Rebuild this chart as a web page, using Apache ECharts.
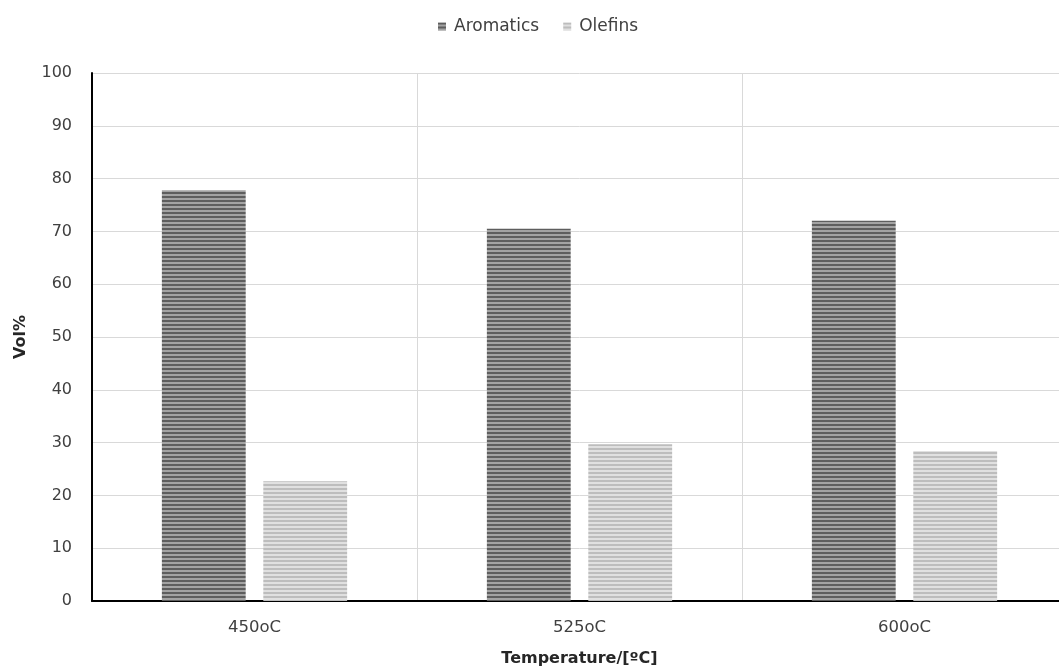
<!DOCTYPE html>
<html>
<head>
<meta charset="utf-8">
<script src="https://cdn.jsdelivr.net/npm/echarts@6/dist/echarts.min.js"></script>
<style>
html, body { margin: 0; padding: 0; background: #fff; overflow: hidden; }
#wrap { width: 1059px; height: 672px; overflow: hidden; }
/* plot area runs a little past the right edge of the page */
#chart { width: 1067px; height: 672px; }
</style>
</head>
<body>
<div id="wrap"><div id="chart"></div></div>
<script>
// Temperatures and composition (vol%)
const categories = ['450oC', '525oC', '600oC'];
const aromatics = [77.8, 70.5, 72.0];
const olefins = [22.7, 29.7, 28.4];
const yTicks = [0, 10, 20, 30, 40, 50, 60, 70, 80, 90, 100];

// Horizontal stripe fill used for the bars
function stripes(dark, light) {
  const c = document.createElement('canvas');
  c.width = 4; c.height = 4;
  const ctx = c.getContext('2d');
  ctx.fillStyle = light; ctx.fillRect(0, 0, 4, 4);
  ctx.fillStyle = dark; ctx.fillRect(0, 0, 4, 2);
  return { image: c, repeat: 'repeat' };
}

const font = '"DejaVu Sans", "Open Sans", sans-serif';
const chart = echarts.init(document.getElementById('chart'), null, { renderer: 'canvas' });

chart.setOption({
  animation: false,
  backgroundColor: '#fff',
  textStyle: { fontFamily: font },
  legend: {
    top: 13, left: 433,
    icon: 'rect',
    itemWidth: 8, itemHeight: 8, itemGap: 24,
    textStyle: { fontSize: 17, color: '#404040', fontFamily: font, padding: [0, 0, 0, 3] },
    data: ['Aromatics', 'Olefins']
  },
  grid: { left: 92, right: 0, top: 73, bottom: 71, containLabel: false },
  xAxis: {
    type: 'category',
    data: categories,
    name: 'Temperature/[ºC]',
    nameLocation: 'middle',
    nameGap: 50,
    nameTextStyle: { fontSize: 16, fontWeight: 'bold', color: '#262626', fontFamily: font },
    axisLine: { lineStyle: { color: '#000', width: 2 } },
    axisTick: { show: false },
    axisLabel: { fontSize: 16.5, color: '#404040', margin: 18, fontFamily: font },
    splitLine: { show: true, lineStyle: { color: '#d9d9d9', width: 1 } }
  },
  yAxis: {
    type: 'value',
    min: 0, max: 100, interval: 10,
    name: 'Vol%',
    nameLocation: 'middle',
    nameGap: 63,
    nameTextStyle: { fontSize: 16, fontWeight: 'bold', color: '#262626', fontFamily: font },
    axisLine: { show: true, lineStyle: { color: '#000', width: 2 } },
    axisTick: { show: false },
    axisLabel: {
      fontSize: 16, color: '#404040', margin: 20, fontFamily: font,
      formatter: v => yTicks.includes(v) ? String(v) : ''
    },
    splitLine: { lineStyle: { color: '#d9d9d9', width: 1 } }
  },
  series: [
    {
      name: 'Aromatics', type: 'bar', data: aromatics,
      barGap: '21%', barCategoryGap: '43%',
      itemStyle: { color: stripes('#5e5e5e', '#a3a3a3') }
    },
    {
      name: 'Olefins', type: 'bar', data: olefins,
      itemStyle: { color: stripes('#bdbdbd', '#e0e0e0') }
    }
  ]
});
</script>
</body>
</html>
